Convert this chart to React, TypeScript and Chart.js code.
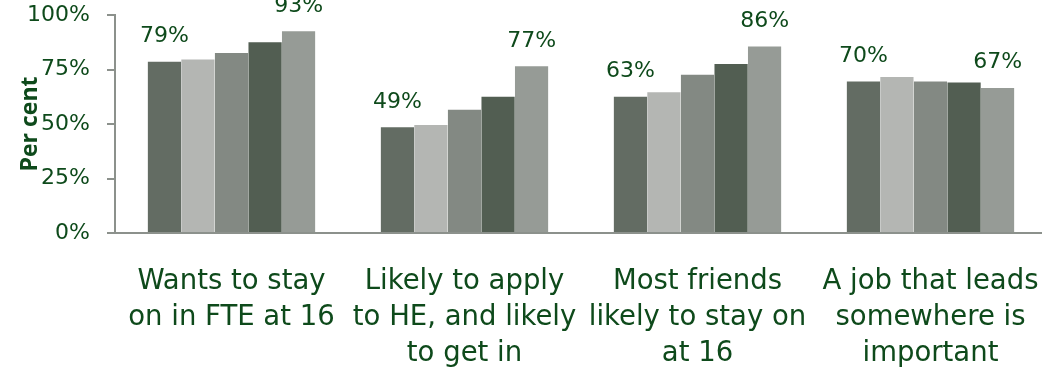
import React, { useEffect, useRef } from "react";
import { Chart, registerables } from "chart.js";

Chart.register(...registerables);

const categories: string[][] = [
  ["Wants to stay", "on in FTE at 16"],
  ["Likely to apply", "to HE, and likely", "to get in"],
  ["Most friends", "likely to stay on", "at 16"],
  ["A job that leads", "somewhere is", "important"],
];

const series1 = [79, 49, 63, 70];
const series2 = [80, 50, 65, 72];
const series3 = [83, 57, 73, 70];
const series4 = [88, 63, 78, 69.5];
const series5 = [93, 77, 86, 67];

const yTicks = [0, 25, 50, 75, 100];

const colors = ["#636c63", "#b4b6b3", "#838983", "#525e52", "#969b96"];
const textColor = "#0e4a1b";
const axisColor = "#8c918c";

const labelPlugin = {
  id: "barLabels",
  afterDatasetsDraw(chart: any) {
    const ctx = chart.ctx;
    ctx.save();
    ctx.font = "22px 'DejaVu Sans'";
    ctx.fillStyle = textColor;
    ctx.textAlign = "center";
    ctx.textBaseline = "alphabetic";
    [0, 4].forEach((di) => {
      const meta = chart.getDatasetMeta(di);
      const data = chart.data.datasets[di].data as number[];
      meta.data.forEach((el: any, i: number) => {
        ctx.fillText(Math.round(data[i]) + "%", el.x, el.y - 18.5);
      });
    });
    ctx.restore();
  },
};

const titlePlugin = {
  id: "yTitle",
  afterDraw(chart: any) {
    const ctx = chart.ctx;
    const area = chart.chartArea;
    ctx.save();
    ctx.translate(37, (area.top + area.bottom) / 2);
    ctx.rotate(-Math.PI / 2);
    ctx.font = "bold 23px 'Open Sans'";
    ctx.fillStyle = textColor;
    ctx.textAlign = "center";
    ctx.textBaseline = "alphabetic";
    ctx.fillText("Per cent", 0, 0);
    ctx.restore();
  },
};

export default function App() {
  const ref = useRef<HTMLCanvasElement>(null);
  useEffect(() => {
    if (!ref.current) return;
    const all = [series1, series2, series3, series4, series5];
    const chart = new Chart(ref.current, {
      type: "bar",
      data: {
        labels: categories,
        datasets: all.map((d, i) => ({
          label: "Series " + (i + 1),
          data: d,
          backgroundColor: colors[i],
          borderColor: "rgba(255,255,255,0.35)",
          borderWidth: { top: 1, left: 0, right: 0, bottom: 0 },
          borderSkipped: false,
          barPercentage: 1,
          categoryPercentage: 0.72,
        })),
      },
      options: {
        animation: false,
        responsive: false,
        devicePixelRatio: 1,
        layout: { padding: { top: 15, left: 0, right: 0, bottom: 0 } },
        plugins: {
          legend: { display: false },
          tooltip: { enabled: false },
        },
        scales: {
          x: {
            grid: { display: false, drawTicks: false },
            border: { display: true, color: axisColor, width: 2 },
            ticks: {
              color: textColor,
              font: { family: "'DejaVu Sans'", size: 27.5, lineHeight: 36 / 27.5 },
              padding: 31,
              maxRotation: 0,
              autoSkip: false,
            },
            afterFit: (s: any) => {
              s.height = 147;
              s.paddingLeft = 0;
              s.paddingRight = 0;
            },
          },
          y: {
            min: 0,
            max: 100,
            afterBuildTicks: (s: any) => {
              s.ticks = yTicks.map((v) => ({ value: v }));
            },
            grid: {
              display: true,
              drawOnChartArea: false,
              drawTicks: true,
              tickLength: 8,
              color: axisColor,
              lineWidth: 2,
            },
            border: { display: true, color: axisColor, width: 2 },
            ticks: {
              color: textColor,
              font: { family: "'DejaVu Sans'", size: 22 },
              padding: 17,
              callback: (v: any) => v + "%",
            },
            afterFit: (s: any) => {
              s.width = 115;
              s.paddingTop = 0;
              s.paddingBottom = 0;
            },
          },
        },
      },
      plugins: [labelPlugin, titlePlugin],
    });
    return () => chart.destroy();
  }, []);
  return (
    <div
      style={{
        position: "fixed",
        left: 0,
        top: 0,
        width: 1042,
        height: 369,
        overflow: "hidden",
        background: "#fff",
      }}
    >
      <canvas ref={ref} width={1047} height={380} style={{ display: "block" }} />
    </div>
  );
}
